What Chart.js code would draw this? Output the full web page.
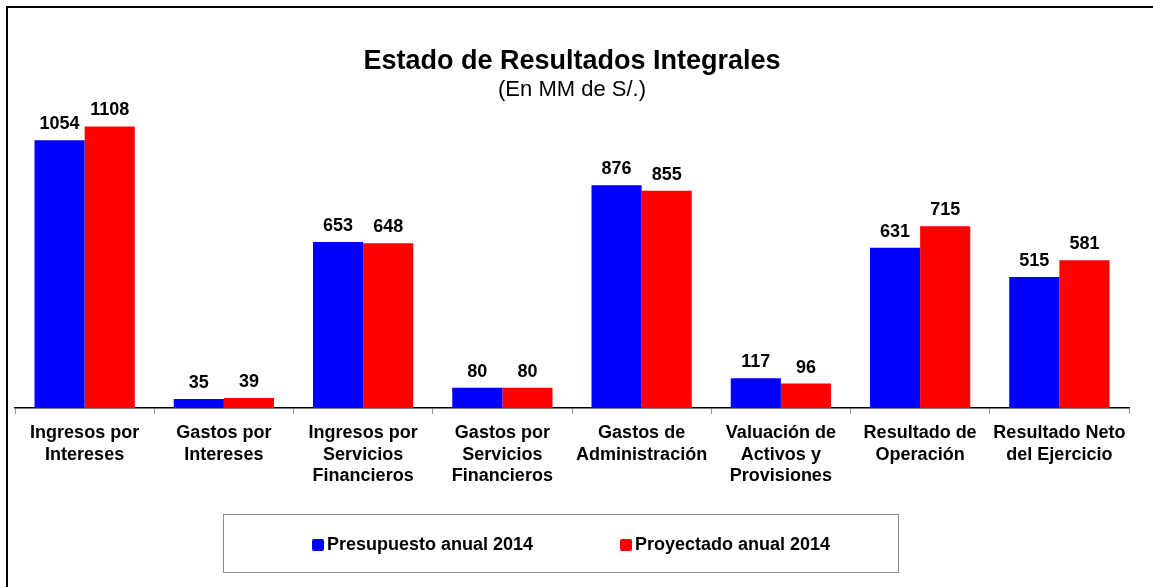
<!DOCTYPE html>
<html>
<head>
<meta charset="utf-8">
<script src="https://cdn.jsdelivr.net/npm/chart.js@4.4.1/dist/chart.umd.min.js"></script>
<style>
    html, body { margin: 0; padding: 0; background: #fff; }
    #wrap { position: relative; width: 1153px; height: 587px; overflow: hidden; }
    #frame {
        position: absolute; left: 6px; top: 6px; right: -10px; bottom: -10px;
        border-left: 2px solid #000; border-top: 2px solid #000;
    }
    #legendBox {
        position: absolute; left: 223px; top: 514px; width: 676px; height: 59px;
        border: 1px solid #8a8a8a; box-sizing: border-box;
    }
    .lg-item {
        position: absolute; top: 19px; display: flex; align-items: center;
        font-family: "Liberation Sans", Arial, sans-serif;
        font-weight: bold; font-size: 18px; color: #000; white-space: nowrap;
    }
    .lg-box { width: 12px; height: 12px; border-radius: 2px; margin-right: 3px; }
</style>
</head>
<body>
<div id="wrap">
    <canvas id="chart" width="1153" height="587"></canvas>
    <div id="frame"></div>
    <div id="legendBox"></div>
</div>
<script>
    // ==========================
    // DATA
    // ==========================

    const categories = [
        ['Ingresos por', 'Intereses'],
        ['Gastos por', 'Intereses'],
        ['Ingresos por', 'Servicios', 'Financieros'],
        ['Gastos por', 'Servicios', 'Financieros'],
        ['Gastos de', 'Administración'],
        ['Valuación de', 'Activos y', 'Provisiones'],
        ['Resultado de', 'Operación'],
        ['Resultado Neto', 'del Ejercicio']
    ];

    const presupuesto = [1054, 35, 653, 80, 876, 117, 631, 515];
    const proyectado  = [1108, 39, 648, 80, 855, 96, 715, 581];

    const seriesNames = ['Presupuesto anual 2014', 'Proyectado anual 2014'];

    const FONT = '"Liberation Sans", Arial, Helvetica, sans-serif';

    // ==========================
    // VALUE LABELS
    // ==========================

    const valueLabels = {
        id: 'valueLabels',
        afterDatasetsDraw(chart) {
            const ctx = chart.ctx;
            ctx.save();
            ctx.font = 'bold 18px ' + FONT;
            ctx.fillStyle = '#000';
            ctx.textAlign = 'center';
            ctx.textBaseline = 'alphabetic';
            chart.data.datasets.forEach((ds, i) => {
                chart.getDatasetMeta(i).data.forEach((bar, j) => {
                    ctx.fillText(ds.data[j], bar.x, bar.y - 11);
                });
            });
            ctx.restore();
        }
    };

    // ==========================
    // CHART
    // ==========================

    const chart = new Chart(document.getElementById('chart'), {
        type: 'bar',
        data: {
            labels: categories,
            datasets: [
                {
                    label: seriesNames[0],
                    data: presupuesto,
                    backgroundColor: '#0000FF'
                },
                {
                    label: seriesNames[1],
                    data: proyectado,
                    backgroundColor: '#FF0000'
                }
            ]
        },
        options: {
            responsive: false,
            animation: false,
            layout: {
                padding: { top: 8, left: 15, right: 24, bottom: 0 }
            },
            datasets: {
                bar: {
                    categoryPercentage: 0.72,
                    barPercentage: 1.0
                }
            },
            plugins: {
                legend: { display: false },
                tooltip: { enabled: false },
                title: {
                    display: true,
                    text: 'Estado de Resultados Integrales',
                    color: '#000',
                    font: { family: FONT, size: 27, weight: 'bold', lineHeight: 1.0 },
                    padding: { top: 40, bottom: 0 }
                },
                subtitle: {
                    display: true,
                    text: '(En MM de S/.)',
                    color: '#000',
                    font: { family: FONT, size: 22, weight: 'normal', lineHeight: 1.0 },
                    padding: { top: 4, bottom: 0 }
                }
            },
            scales: {
                x: {
                    grid: {
                        display: true,
                        drawOnChartArea: false,
                        drawTicks: true,
                        tickLength: 6,
                        color: '#999'
                    },
                    border: { display: true, color: '#000', width: 1.5 },
                    ticks: {
                        color: '#000',
                        font: { family: FONT, size: 18, weight: 'bold', lineHeight: 1.17 },
                        padding: 9,
                        maxRotation: 0,
                        autoSkip: false
                    },
                    afterFit(scale) {
                        scale.height = 179;
                    }
                },
                y: {
                    display: false,
                    min: 0,
                    max: 1208
                }
            }
        },
        plugins: [valueLabels]
    });

    // ==========================
    // LEGEND
    // ==========================

    const legendBox = document.getElementById('legendBox');
    const legendLeft = [88, 396];

    chart.data.datasets.forEach((ds, i) => {
        const item = document.createElement('div');
        item.className = 'lg-item';
        item.style.left = legendLeft[i] + 'px';

        const sw = document.createElement('span');
        sw.className = 'lg-box';
        sw.style.background = ds.backgroundColor;

        const txt = document.createElement('span');
        txt.textContent = ds.label;

        item.appendChild(sw);
        item.appendChild(txt);
        legendBox.appendChild(item);
    });
</script>
</body>
</html>
